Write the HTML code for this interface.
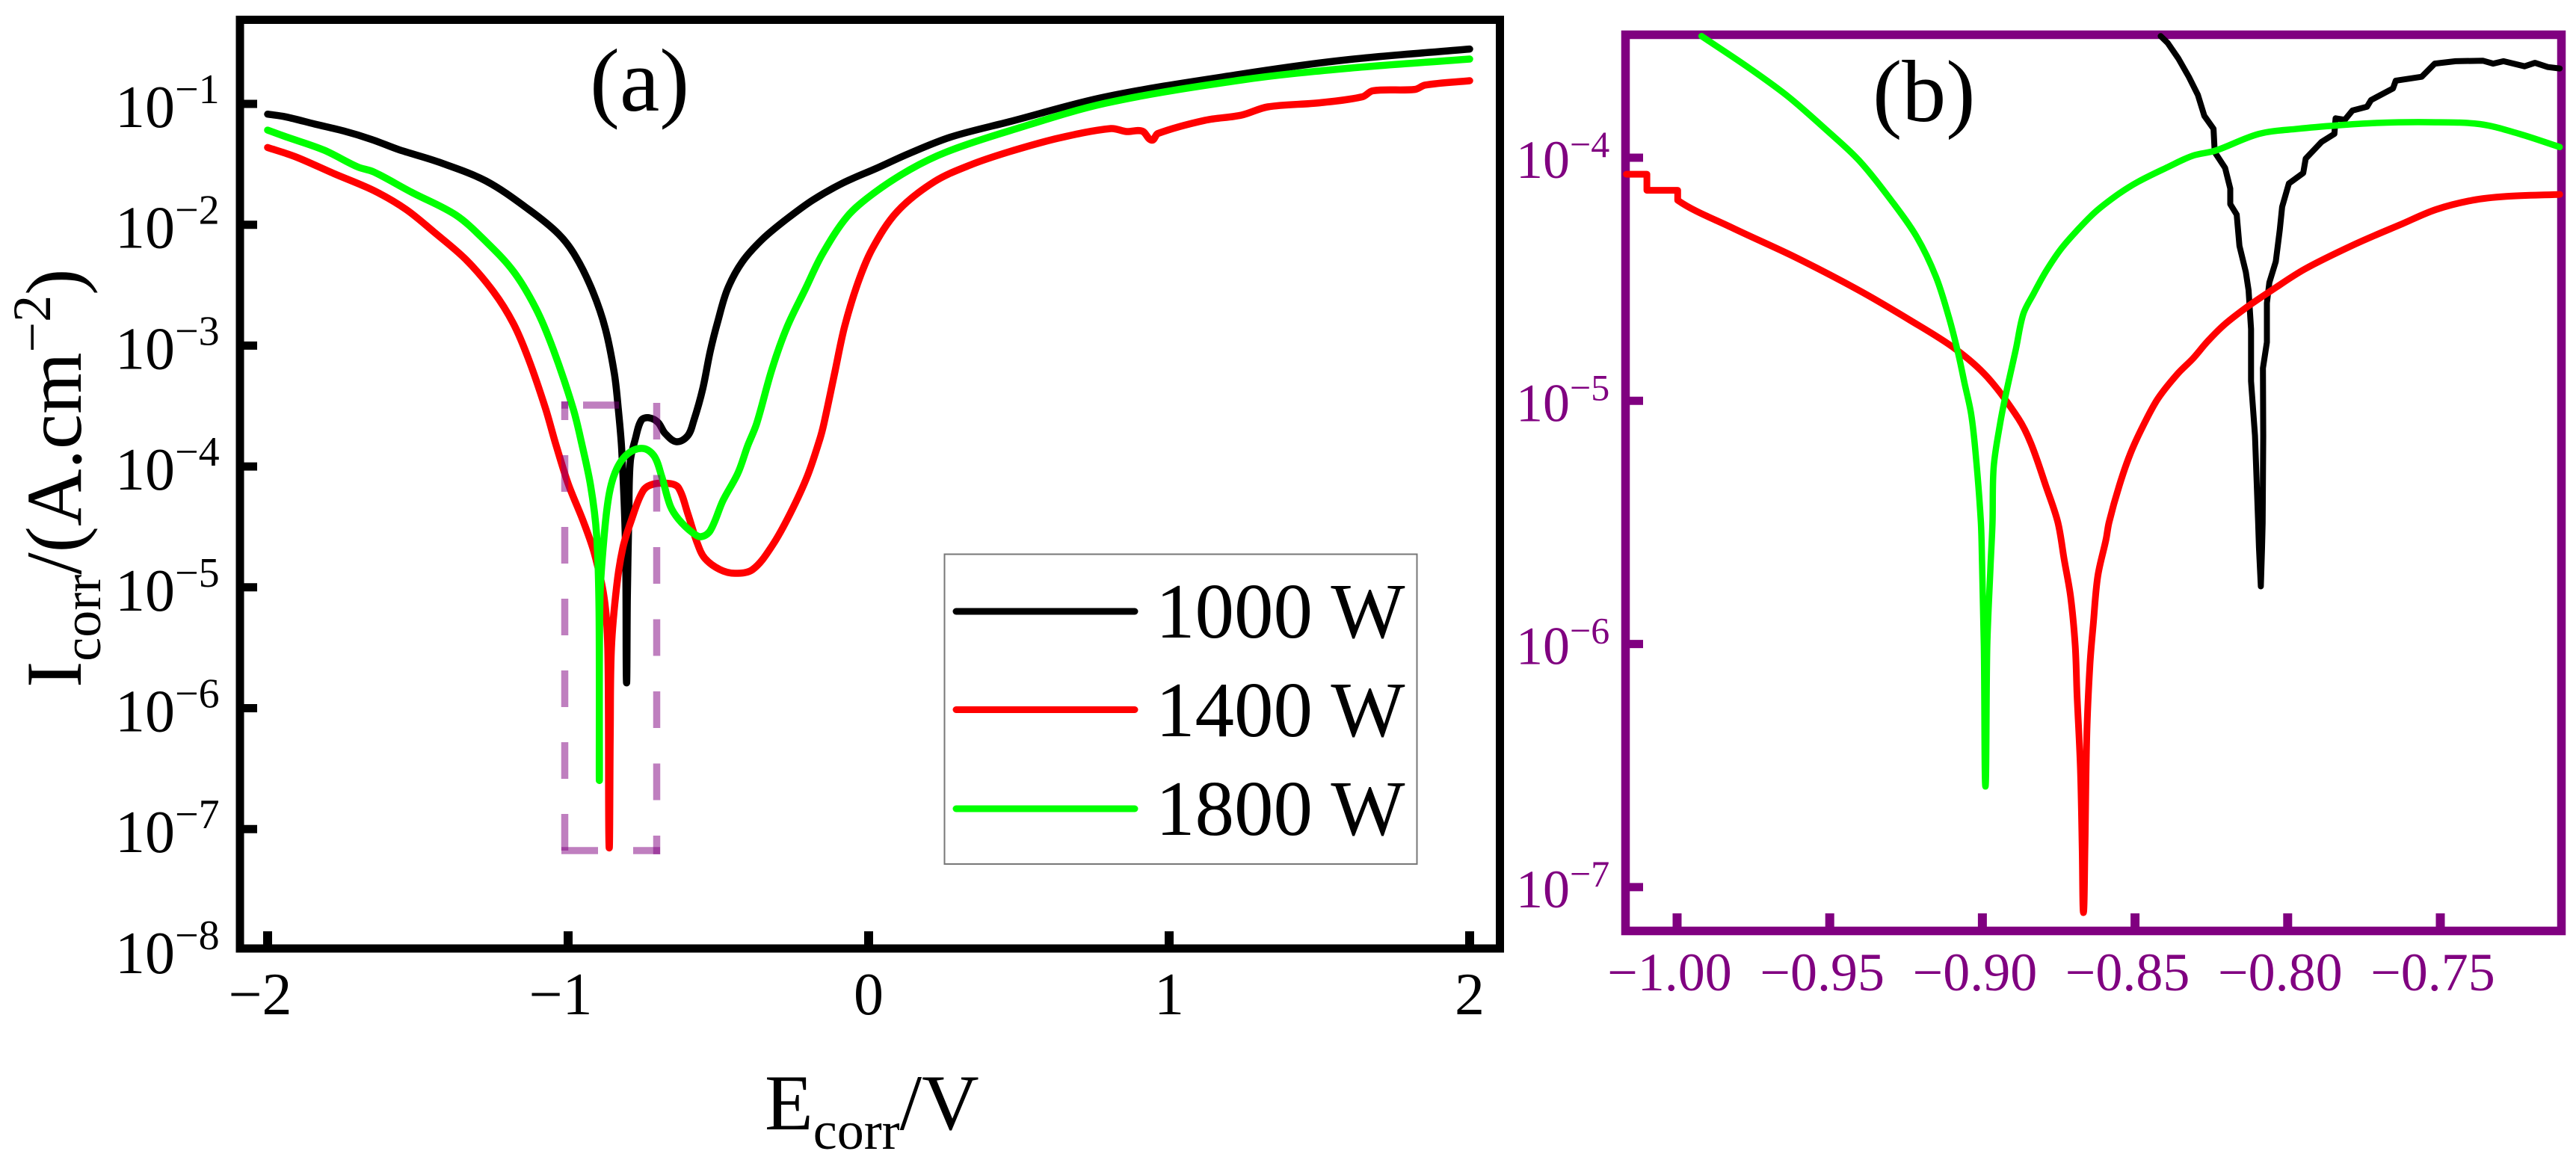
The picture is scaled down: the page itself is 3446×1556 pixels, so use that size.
<!DOCTYPE html>
<html lang="en">
<head>
<meta charset="utf-8">
<title>Polarization curves</title>
<style>
html,body{margin:0;padding:0;background:#fff}
svg{display:block}
text{font-family:"Liberation Serif",serif}
</style>
</head>
<body>
<svg id="fig" xmlns="http://www.w3.org/2000/svg" width="3446" height="1556" viewBox="0 0 3446 1556">
<rect width="3446" height="1556" fill="#fff"/>
<rect x="321" y="26.5" width="1685.5" height="1242.5" fill="none" stroke="#000" stroke-width="11"/>
<rect x="2174.5" y="46.5" width="1252" height="1199" fill="none" stroke="#800080" stroke-width="11.5"/>
<g id="a-ticks"></g>
<g id="b-ticks"></g>
<g id="a-series"></g>
<g id="b-series"></g>
<g fill="none" stroke="#800080" stroke-opacity="0.5" stroke-width="9.5">
<line x1="755.5" y1="537" x2="755.5" y2="1143" stroke-dasharray="25 47 49 47 49 47 49 47 49 47 49 47 49 47 49 47"/>
<line x1="878.5" y1="539" x2="878.5" y2="1143" stroke-dasharray="49 47.5"/>
<line x1="751" y1="542" x2="883" y2="542" stroke-dasharray="9 20 48 55"/>
<line x1="751" y1="1138" x2="883" y2="1138" stroke-dasharray="49 47 36"/>
</g>
<text x="789" y="148" font-size="120">(a)</text>
<text x="2505" y="162" font-size="118">(b)</text>
<text x="1023" y="1511" font-size="106">E<tspan font-size="72" dy="26">corr</tspan><tspan dy="-26">/V</tspan></text>
<text transform="translate(108,920) rotate(-90)" x="0" y="0" font-size="106">I<tspan font-size="72" dy="26">corr</tspan><tspan dy="-26">/(A.cm</tspan><tspan font-size="72" dy="-41">−2</tspan><tspan dy="41">)</tspan></text>
<g>
<rect x="1263.5" y="741.5" width="632" height="414.5" fill="#fff" stroke="#777" stroke-width="2"/>
<line x1="1279" y1="818" x2="1518" y2="818" stroke="#000" stroke-width="9" stroke-linecap="round"/>
<text x="1546" y="853" font-size="105">1000 W</text>
<line x1="1279" y1="949.5" x2="1518" y2="949.5" stroke="#f00" stroke-width="9" stroke-linecap="round"/>
<text x="1546" y="985" font-size="105">1400 W</text>
<line x1="1279" y1="1082" x2="1518" y2="1082" stroke="#0f0" stroke-width="9" stroke-linecap="round"/>
<text x="1546" y="1117" font-size="105">1800 W</text>
</g>
</svg>
<script>
// Panel (a): potential (V) and log10 of current density
const aBlackE = [-2,-1.94,-1.843,-1.748,-1.653,-1.565,-1.43,-1.274,-1.132,-1.032,-.975,-.918,-.876,-.846,-.833,-.822,-.809,-.806,-.803,-.798,-.793,-.776,-.756,-.731,-.701,-.677,-.639,-.602,-.582,-.552,-.527,-.502,-.47,-.42,-.353,-.279,-.187,-.087,.027,.137,.276,.468,.789,1.241,1.591,2];
const aBlackLogI = [-1.085,-1.107,-1.167,-1.223,-1.295,-1.377,-1.482,-1.637,-1.872,-2.076,-2.262,-2.552,-2.861,-3.233,-3.523,-3.851,-4.673,-5.77,-5.088,-4.4,-3.956,-3.77,-3.616,-3.597,-3.635,-3.727,-3.795,-3.746,-3.622,-3.356,-3.047,-2.8,-2.534,-2.305,-2.119,-1.965,-1.798,-1.656,-1.532,-1.408,-1.272,-1.148,-.941,-.753,-.635,-.546];
const aRedE = [-2,-1.907,-1.78,-1.647,-1.54,-1.448,-1.341,-1.249,-1.182,-1.132,-1.075,-1.042,-1,-.95,-.913,-.88,-.868,-.864,-.86,-.856,-.838,-.818,-.793,-.751,-.719,-.66,-.632,-.602,-.57,-.545,-.495,-.445,-.386,-.321,-.261,-.204,-.162,-.149,-.112,-.08,-.037,.012,.095,.219,.343,.468,.631,.806,.858,.91,.942,.963,1.119,1.241,1.328,1.502,1.643,1.678,1.818,1.852,2];
const aRedLogI = [-1.361,-1.438,-1.576,-1.717,-1.872,-2.057,-2.286,-2.552,-2.818,-3.109,-3.523,-3.808,-4.142,-4.451,-4.717,-5.088,-5.502,-7.116,-6.2,-5.502,-4.983,-4.673,-4.469,-4.203,-4.148,-4.142,-4.179,-4.389,-4.636,-4.76,-4.853,-4.884,-4.853,-4.655,-4.389,-4.08,-3.77,-3.647,-3.214,-2.843,-2.49,-2.2,-1.891,-1.643,-1.501,-1.396,-1.284,-1.204,-1.229,-1.225,-1.3,-1.245,-1.136,-1.093,-1.025,-.991,-.941,-.891,-.88,-.844,-.808];
const aGreenE = [-2,-1.939,-1.812,-1.701,-1.647,-1.522,-1.373,-1.274,-1.182,-1.107,-1.05,-.983,-.955,-.925,-.905,-.897,-.896,-.894,-.88,-.863,-.838,-.801,-.751,-.714,-.689,-.66,-.632,-.585,-.557,-.527,-.485,-.435,-.403,-.373,-.321,-.271,-.211,-.154,-.072,.012,.137,.261,.468,.789,1.241,1.591,2];
const aGreenLogI = [-1.217,-1.272,-1.383,-1.521,-1.563,-1.73,-1.921,-2.138,-2.385,-2.694,-3.028,-3.523,-3.808,-4.16,-4.574,-5.2,-6.597,-5.088,-4.574,-4.222,-4.018,-3.894,-3.851,-3.913,-4.08,-4.327,-4.438,-4.55,-4.581,-4.531,-4.284,-4.055,-3.832,-3.647,-3.189,-2.843,-2.534,-2.243,-1.934,-1.748,-1.544,-1.396,-1.223,-.994,-.802,-.706,-.629];

// Panel (b): zoomed view around the corrosion potentials
const bBlackE = [-.8416,-.8393,-.8358,-.8324,-.8294,-.8273,-.8243,-.8239,-.8205,-.8188,-.8188,-.8167,-.8158,-.8137,-.8128,-.812,-.812,-.8107,-.8097,-.8094,-.8088,-.8084,-.8082,-.808,-.8081,-.8068,-.8068,-.806,-.8039,-.8026,-.8018,-.7996,-.7949,-.7941,-.7889,-.7847,-.7843,-.7813,-.7788,-.774,-.7727,-.7655,-.7646,-.7561,-.7518,-.745,-.7361,-.7327,-.7293,-.7224,-.719,-.7148,-.7109];
const bBlackLogI = [-3.5,-3.528,-3.592,-3.667,-3.742,-3.828,-3.881,-3.977,-4.042,-4.127,-4.191,-4.234,-4.363,-4.47,-4.545,-4.705,-4.919,-5.144,-5.492,-5.604,-5.763,-5.604,-5.503,-5.144,-4.866,-4.759,-4.598,-4.513,-4.427,-4.298,-4.202,-4.106,-4.063,-4.004,-3.935,-3.902,-3.838,-3.844,-3.806,-3.79,-3.763,-3.715,-3.683,-3.667,-3.613,-3.603,-3.601,-3.613,-3.603,-3.624,-3.61,-3.627,-3.633];
const bRedE = [-1.0166,-1.0099,-1.0099,-.9998,-.9998,-.9825,-.9615,-.9405,-.9236,-.9089,-.8984,-.8882,-.8841,-.8792,-.8753,-.8732,-.8711,-.8696,-.869,-.8679,-.8673,-.8669,-.8664,-.8658,-.8648,-.8637,-.8622,-.8595,-.8585,-.8552,-.8515,-.8474,-.8425,-.836,-.8311,-.8262,-.8205,-.8131,-.8058,-.7944,-.778,-.7625,-.7514,-.7395,-.7284,-.7109];
const bRedLogI = [-4.068,-4.068,-4.134,-4.134,-4.175,-4.285,-4.408,-4.545,-4.669,-4.786,-4.902,-5.073,-5.175,-5.35,-5.499,-5.654,-5.805,-6.007,-6.208,-6.51,-6.845,-7.105,-6.845,-6.376,-6.09,-5.923,-5.721,-5.57,-5.499,-5.35,-5.216,-5.104,-4.991,-4.888,-4.827,-4.755,-4.684,-4.612,-4.55,-4.458,-4.356,-4.272,-4.213,-4.175,-4.159,-4.151];
const bGreenE = [-.992,-.9762,-.9636,-.951,-.9405,-.9299,-.9215,-.9152,-.911,-.9079,-.9058,-.9037,-.9022,-.9005,-.9001,-.8995,-.899,-.8984,-.8973,-.8967,-.8963,-.8942,-.8921,-.889,-.8866,-.8833,-.8792,-.8743,-.8686,-.8629,-.8556,-.849,-.8392,-.8311,-.8237,-.8094,-.7966,-.7838,-.771,-.754,-.7369,-.7241,-.7109];
const bGreenLogI = [-3.5,-3.633,-3.749,-3.887,-4.01,-4.175,-4.326,-4.49,-4.655,-4.806,-4.93,-5.053,-5.218,-5.499,-5.671,-6.007,-6.586,-6.007,-5.671,-5.503,-5.273,-5.094,-4.96,-4.786,-4.643,-4.561,-4.468,-4.376,-4.294,-4.222,-4.151,-4.099,-4.038,-3.992,-3.971,-3.902,-3.881,-3.867,-3.857,-3.854,-3.862,-3.902,-3.956];

// Tick values and labels
const aXTicks = [-2,-1,0,1,2];
const aXLabels = ["−2","−1","0","1","2"];
const aYExponents = [-1,-2,-3,-4,-5,-6,-7,-8];
const aYExpLabels = ["−1","−2","−3","−4","−5","−6","−7","−8"];
const bXTicks = [-1,-.95,-.9,-.85,-.8,-.75];
const bXLabels = ["−1.00","−0.95","−0.90","−0.85","−0.80","−0.75"];
const bYExponents = [-4,-5,-6,-7];
const bYExpLabels = ["−4","−5","−6","−7"];

const NS = "http://www.w3.org/2000/svg";
function aX(e){ return 1162 + 402 * e; }
function aY(l){ return 139 + (-1 - l) * 161.7; }
function bX(e){ return 2243.5 + (e + 1) * 4084; }
function bY(l){ return 211 + (-4 - l) * 325.3; }

function make(tag, attrs, parent){
  const el = document.createElementNS(NS, tag);
  for (const k in attrs) el.setAttribute(k, attrs[k]);
  parent.appendChild(el);
  return el;
}
function clampVec(v, maxLen){
  const n = Math.hypot(v[0], v[1]);
  if (n <= maxLen || n === 0) return v;
  return [v[0] * maxLen / n, v[1] * maxLen / n];
}
function curvePath(es, ls, xf, yf, linearSegments){
  const p = es.map((e, i) => [xf(e), yf(ls[i])]);
  const tan = p.map((q, i) => {
    const a = p[Math.max(i - 1, 0)], b = p[Math.min(i + 1, p.length - 1)];
    return [(b[0] - a[0]) / 3, (b[1] - a[1]) / 3];
  });
  let d = "M" + p[0][0].toFixed(1) + " " + p[0][1].toFixed(1);
  for (let i = 0; i < p.length - 1; i++) {
    const q = p[i + 1];
    if (i < linearSegments) { d += "L" + q[0].toFixed(1) + " " + q[1].toFixed(1); continue; }
    const len = Math.hypot(q[0] - p[i][0], q[1] - p[i][1]) / 3;
    const t1 = clampVec(tan[i], len), t2 = clampVec(tan[i + 1], len);
    d += "C" + (p[i][0] + t1[0]).toFixed(1) + " " + (p[i][1] + t1[1]).toFixed(1) + " " +
         (q[0] - t2[0]).toFixed(1) + " " + (q[1] - t2[1]).toFixed(1) + " " +
         q[0].toFixed(1) + " " + q[1].toFixed(1);
  }
  return d;
}
function addSeries(parent, es, ls, xf, yf, color, width, name, linearSegments){
  const el = make("path", {d: curvePath(es, ls, xf, yf, linearSegments), fill: "none", stroke: color, "stroke-width": width, "stroke-linejoin": "round", "stroke-linecap": "round"}, parent);
  
  
}
function addAxes(parent, xTicks, xLabels, exps, expLabels, xf, yf, o){
  xTicks.forEach((v, i) => {
    const t = make("line", {x1: xf(v), x2: xf(v), y1: o.bottom, y2: o.bottom - 18, stroke: o.color, "stroke-width": 12}, parent);
    
    
    const lab = make("text", {x: xf(v) + (v < 0 ? o.negShift : 0), y: o.xBase, "text-anchor": "middle", "font-size": o.font, fill: o.color}, parent);
    lab.textContent = xLabels[i];
    
    
  });
  exps.forEach((v, i) => {
    const y = yf(v);
    const tickY = Math.min(y, o.bottom + 5);
    const t = make("line", {x1: o.left, x2: o.left + 18, y1: tickY, y2: tickY, stroke: o.color, "stroke-width": 11}, parent);
    
    
    const lab = make("text", {x: o.labelX, y: y + o.baseOff, "font-size": o.font, fill: o.color}, parent);
    lab.textContent = "10";
    
    
    const sup = make("text", {x: o.labelX + o.font, y: y - 1, "font-size": o.supFont, fill: o.color}, parent);
    sup.textContent = expLabels[i];
    
    
  });
}

const gAT = document.getElementById("a-ticks");
const gBT = document.getElementById("b-ticks");
const gAS = document.getElementById("a-series");
const gBS = document.getElementById("b-series");

addAxes(gAT, aXTicks, aXLabels, aYExponents, aYExpLabels, aX, aY, {bottom:1264, left:326, color:"#000", font:80, supFont:56, labelX:154, baseOff:31, xBase:1357, negShift:-10});
addAxes(gBT, bXTicks, bXLabels, bYExponents, bYExpLabels, bX, bY, {bottom:1240, left:2180, color:"#800080", font:72, supFont:50, labelX:2028, baseOff:27, xBase:1325, negShift:-10});

addSeries(gAS, aBlackE, aBlackLogI, aX, aY, "#000", 9.5, "series-a-1000w", 0);
addSeries(gAS, aRedE, aRedLogI, aX, aY, "#f00", 9.5, "series-a-1400w", 0);
addSeries(gAS, aGreenE, aGreenLogI, aX, aY, "#0f0", 9.5, "series-a-1800w", 0);
addSeries(gBS, bBlackE, bBlackLogI, bX, bY, "#000", 8, "series-b-1000w", bBlackE.length);
addSeries(gBS, bRedE, bRedLogI, bX, bY, "#f00", 9, "series-b-1400w", 4);
addSeries(gBS, bGreenE, bGreenLogI, bX, bY, "#0f0", 8.5, "series-b-1800w", 0);
</script>
</body>
</html>
